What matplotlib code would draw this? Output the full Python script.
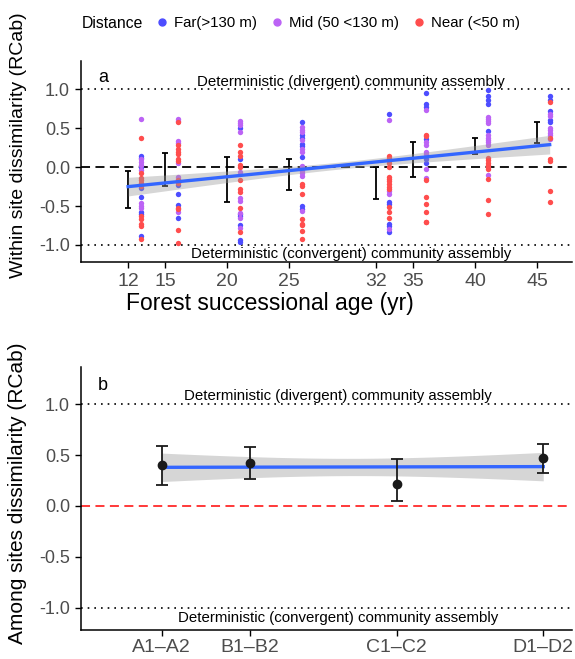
import numpy as np
import matplotlib
matplotlib.use("Agg")
import matplotlib.pyplot as plt
from matplotlib.lines import Line2D

plt.rcParams['font.family'] = ['Liberation Sans', 'DejaVu Sans']
plt.rcParams['axes.unicode_minus'] = False

# panel a: within-site RCab by forest age (points keyed by site age)
ages = [12, 15, 20, 25, 32, 35, 40, 45]

far = {
    12: [0.15, 0.12, 0.0, -0.27, -0.38, -0.58, -0.60, -0.89],
    15: [-0.23, -0.35, -0.49, -0.66],
    20: [0.51, 0.10, -0.60, -0.63, -0.74, -0.94, -0.96],
    25: [0.58, 0.41, 0.37, 0.30, 0.27, 0.13, -0.50, -0.54],
    32: [0.69, -0.45, -0.48, -0.73, -0.76, -0.84],
    35: [0.96, 0.81, 0.78, 0.36, 0.10, 0.05],
    40: [0.99, 0.91, 0.87, 0.81, 0.47],
    45: [0.91, 0.87, 0.72, 0.61, 0.58],
}
mid = {
    12: [0.62, 0.10, 0.07, 0.03, -0.04, -0.46, -0.50, -0.53],
    15: [0.62, 0.60, 0.34, 0.31, 0.06, -0.12, -0.15, -0.58],
    20: [0.60, 0.57, 0.54, 0.45, -0.06, -0.40, -0.43, -0.59, -0.66, -0.78],
    25: [0.52, 0.48, 0.45, 0.35, 0.23, 0.20, 0.02, -0.01, -0.05, -0.08, -0.11, -0.56],
    32: [0.61, -0.31, -0.34, -0.80],
    35: [0.73, 0.33, 0.29, 0.20, 0.17, -0.02, -0.14],
    40: [0.65, 0.62, 0.59, 0.57, 0.41, 0.38, 0.35, 0.32, 0.29, -0.10],
    45: [0.69, 0.66, 0.51, 0.48, 0.44, 0.41, 0.36],
}
near = {
    12: [0.38, -0.08, -0.14, -0.17, -0.20, -0.24, -0.63, -0.67, -0.73, -0.76, -0.92],
    15: [0.58, 0.28, 0.24, 0.20, 0.17, 0.10, 0.08, -0.16, -0.20, -0.52, -0.54, -0.81, -0.97],
    20: [0.28, 0.20, 0.14, 0.03, 0.0, -0.16, -0.28, -0.32, -0.53, -0.84],
    25: [-0.22, -0.24, -0.35, -0.67, -0.73, -0.75, -0.82, -0.93],
    32: [0.15, 0.12, 0.09, 0.05, 0.0, -0.12, -0.15, -0.18, -0.21, -0.25, -0.28, -0.51, -0.58, -0.66],
    35: [0.42, 0.40, -0.17, -0.38, -0.47, -0.58, -0.70, -0.71],
    40: [0.12, 0.09, 0.06, 0.03, 0.0, -0.02, -0.15, -0.42, -0.60],
    45: [0.84, 0.38, 0.10, 0.08, -0.31, -0.45],
}

err_lo_a = [-0.53, -0.24, -0.45, -0.29, -0.41, -0.13, 0.17, 0.31]
err_hi_a = [-0.05, 0.18, 0.13, 0.10, 0.00, 0.32, 0.38, 0.58]

# fitted lm line and its 95% CI half widths (centre / ends)
fit_x_a = [12, 46]
fit_y_a = [-0.25, 0.29]
ci_a = (0.045, 0.12)

# panel b: among-site RCab
pairs = ["A1\u2013A2", "B1\u2013B2", "C1\u2013C2", "D1\u2013D2"]
pair_x = [0, 3, 8, 13]
mean_b = [0.40, 0.42, 0.22, 0.47]
lo_b = [0.21, 0.27, 0.05, 0.32]
hi_b = [0.59, 0.58, 0.46, 0.61]
fit_y_b = [0.38, 0.387]
ci_b = (0.085, 0.14)

dist_labels = ["Far(>130 m)", "Mid (50 <130 m)", "Near (<50 m)"]
dist_colors = ["#4d4dff", "#bc63f5", "#ff4d4d"]

TXT = "#4d4d4d"
DIV = "Deterministic (divergent) community assembly"
CONV = "Deterministic (convergent) community assembly"


def band(x0, x1, y0, y1, ci):
    xs = np.linspace(x0, x1, 100)
    ys = y0 + (y1 - y0) * (xs - x0) / (x1 - x0)
    u = (xs - (x0 + x1) / 2) / ((x1 - x0) / 2)
    hw = np.sqrt(ci[0] ** 2 + (ci[1] ** 2 - ci[0] ** 2) * u ** 2)
    return xs, ys, hw


def style(ax, ylabel, size):
    for s in ["top", "right"]:
        ax.spines[s].set_visible(False)
    for s in ["left", "bottom"]:
        ax.spines[s].set_linewidth(1.1)
    ax.set_ylim(-1.22, 1.37)
    ax.set_yticks([-1, -0.5, 0, 0.5, 1])
    ax.set_yticklabels(["-1.0", "-0.5", "0.0", "0.5", "1.0"])
    ax.tick_params(length=4, width=1, labelsize=13, labelcolor=TXT, pad=4)
    ax.tick_params(axis="x", labelsize=14, pad=4)
    ax.set_ylabel(ylabel, fontsize=size)
    ax.axhline(1, color="black", ls=(0, (1, 3)), lw=1.2, zorder=1)
    ax.axhline(-1, color="black", ls=(0, (1, 3)), lw=1.2, zorder=1)


fig = plt.figure(figsize=(5.75, 6.59), dpi=100)
ax1 = fig.add_axes([0.1409, 0.6024, 0.8539, 0.3055])
ax2 = fig.add_axes([0.1409, 0.0440, 0.8539, 0.3996])

# ---- panel a
style(ax1, "Within site dissimilarity (RCab)", 14)
ax1.yaxis.set_label_coords(-0.11, 0.58)
ax1.axhline(0, color="black", ls=(0, (5, 3)), lw=1.3, zorder=1)
for d, col in zip([far, mid, near], dist_colors):
    for a in ages:
        ax1.scatter([a + 1] * len(d[a]), d[a], s=15, color=col, lw=0, zorder=2)
ax1.errorbar(ages, [(l + h) / 2 for l, h in zip(err_lo_a, err_hi_a)],
             yerr=[[(h - l) / 2 for l, h in zip(err_lo_a, err_hi_a)]] * 2,
             fmt="none", ecolor="black", elinewidth=1.3, capsize=2.2, capthick=1.3, zorder=3)
xs, ys, hw = band(fit_x_a[0], fit_x_a[1], fit_y_a[0], fit_y_a[1], ci_a)
ax1.fill_between(xs, ys - hw, ys + hw, color="#999999", alpha=0.4, lw=0, zorder=4)
ax1.plot(xs, ys, color="#3366ff", lw=2.4, zorder=5)
ax1.set_xlim(8.2, 47.8)
ax1.set_xticks(ages)
ax1.set_xlabel("Forest successional age (yr)", fontsize=16.5)
ax1.xaxis.set_label_coords(0.385, -0.15)
ax1.text(30, 1.01, DIV, ha="center", va="bottom", fontsize=10.8)
ax1.text(30, -1.03, CONV, ha="center", va="top", fontsize=10.8)
ax1.text(0.035, 0.96, "a", transform=ax1.transAxes, fontsize=13, va="top")

# ---- panel b
style(ax2, "Among sites dissimilarity (RCab)", 15)
ax2.yaxis.set_label_coords(-0.11, 0.52)
ax2.tick_params(axis="x", pad=2.5)
ax2.axhline(0, color="#ff2a2a", ls=(0, (5, 3)), lw=1.3, zorder=1)
xs, ys, hw = band(pair_x[0], pair_x[-1], fit_y_b[0], fit_y_b[1], ci_b)
ax2.fill_between(xs, ys - hw, ys + hw, color="#999999", alpha=0.4, lw=0, zorder=2)
ax2.plot(xs, ys, color="#3366ff", lw=2.4, zorder=3)
ax2.errorbar(pair_x, mean_b, yerr=[np.subtract(mean_b, lo_b), np.subtract(hi_b, mean_b)],
             fmt="o", color="#1a1a1a", ms=6, elinewidth=1.3, capsize=4.4, capthick=1.3, zorder=4)
ax2.set_xlim(-2.75, 13.98)
ax2.set_xticks(pair_x)
ax2.set_xticklabels(pairs)
ax2.text(6, 1.01, DIV, ha="center", va="bottom", fontsize=10.8)
ax2.text(6, -1.03, CONV, ha="center", va="top", fontsize=10.8)
ax2.text(0.035, 0.96, "b", transform=ax2.transAxes, fontsize=13, va="top")

# ---- legend
fig.text(82 / 575, 1 - 23 / 659, "Distance", fontsize=11.3, va="center")
handles = [Line2D([], [], marker="o", ls="", color=c, ms=5) for c in dist_colors]
fig.legend(handles, dist_labels, loc="center left", bbox_to_anchor=(155 / 575, 1 - 23 / 659),
           ncol=3, frameon=False, fontsize=10.8, handlelength=0.9, handletextpad=0.35,
           columnspacing=0.9, borderpad=0, borderaxespad=0)

fig.savefig("out.png", dpi=100)
